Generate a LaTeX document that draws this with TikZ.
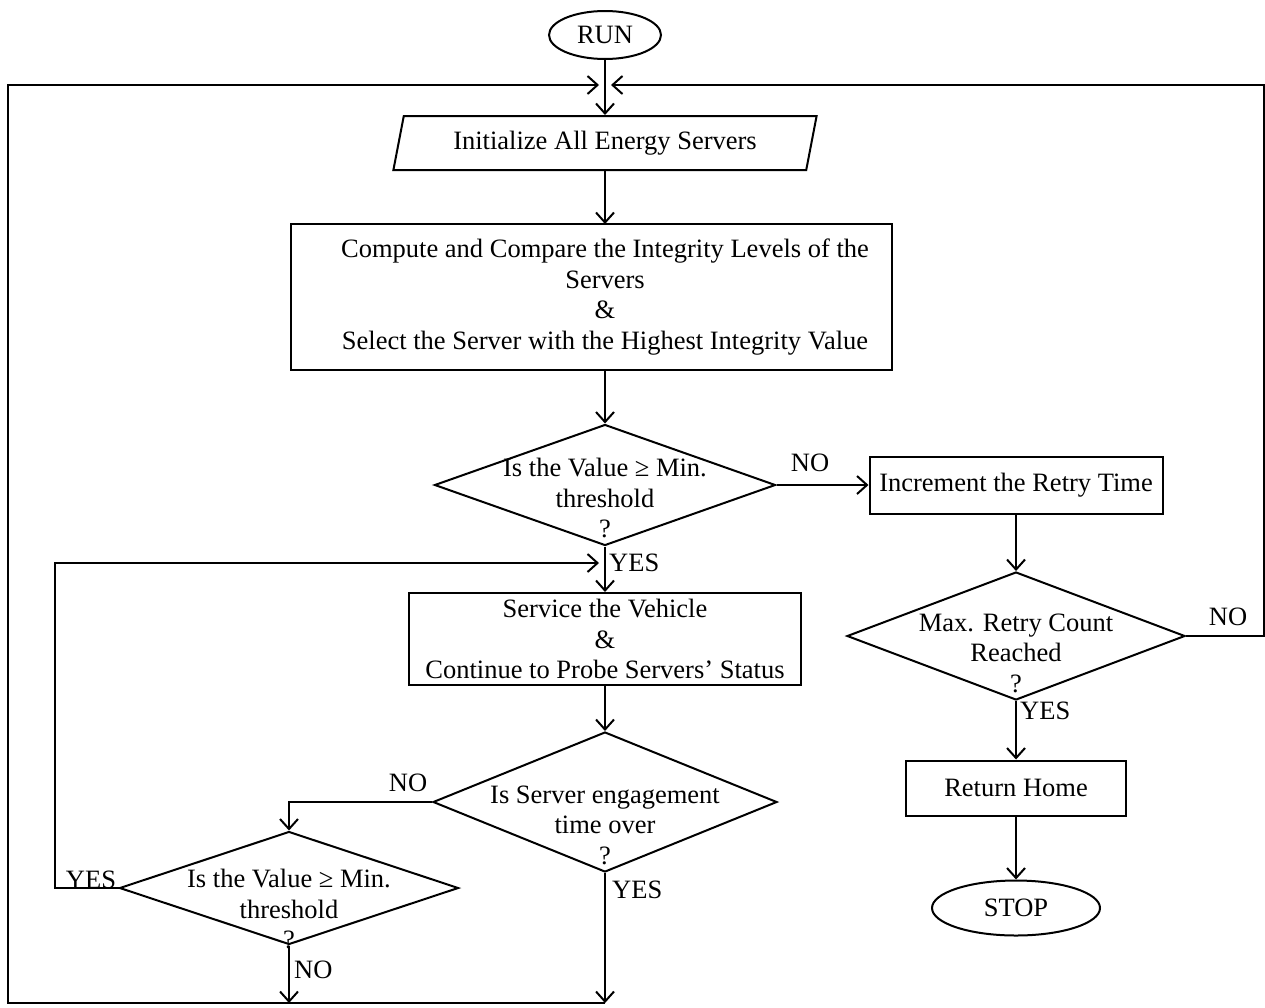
\documentclass[tikz,border=0pt]{standalone}
\usepackage{fontspec}
\setmainfont{Liberation Serif}
\usetikzlibrary{shapes.geometric,arrows.meta}
\begin{document}
\begin{tikzpicture}[x=1pt,y=-1pt,
  every node/.style={font=\fontsize{26.5}{30.5}\selectfont},
  ln/.style={line width=2pt},
  arr/.style={line width=2pt,-{Straight Barb[length=10pt,width=18pt]}},
  boxn/.style={draw,line width=2pt,rectangle,inner sep=0pt,align=center},
  term/.style={draw,line width=2pt,ellipse,inner sep=0pt},
  dia/.style={draw,line width=2pt,diamond,inner sep=0pt},
  txt/.style={align=center,inner sep=0pt},
  lbl/.style={inner sep=0pt}]
\useasboundingbox (0,0) rectangle (1265,1007);

% nodes
\node[term,minimum width=112,minimum height=48] (run) at (605,35) {RUN};
\node[draw,line width=2pt,trapezium,trapezium left angle=72,trapezium right angle=108,
      trapezium stretches=true,minimum width=424,minimum height=54,inner sep=0pt] (init) at (605,143) {Initialize All Energy Servers};
\node[boxn,minimum width=601,minimum height=146] (comp) at (591.5,297) {};
\node[txt] (ct) at (605,297)
  {Compute and Compare the Integrity Levels of the\\Servers\\\&\\Select the Server with the Highest Integrity Value};
\node[dia,minimum width=341,minimum height=121] (d1) at (605,485) {};
\node[txt] (t1) at (605,498) {Is the Value ≥ Min.\\threshold\\?};
\node[boxn,minimum width=293,minimum height=57] (inc) at (1016,485) {Increment the Retry Time};
\node[dia,minimum width=338,minimum height=128] (d2) at (1016,636) {};
\node[txt] (t2) at (1016,653) {Max. Retry Count\\Reached\\?};
\node[boxn,minimum width=220,minimum height=55] (home) at (1016,788) {Return Home};
\node[term,minimum width=168,minimum height=55] (stop) at (1016,908) {STOP};
\node[boxn,minimum width=392,minimum height=92] (serv) at (605,639)
  {Service the Vehicle\\\&\\Continue to Probe Servers’ Status};
\node[dia,minimum width=344,minimum height=140] (d3) at (605,802) {};
\node[txt] (t3) at (605,825) {Is Server engagement\\time over\\?};
\node[dia,minimum width=339,minimum height=113] (d4) at (289,888) {};
\node[txt] (t4) at (289,909) {Is the Value ≥ Min.\\threshold\\?};

% coordinates of the loop frame
\coordinate (jl) at (599,85);
\coordinate (jr) at (611,85);
\coordinate (tl) at (8,85);
\coordinate (bl) at (8,1003);
\coordinate (b2) at (605,1003);
\coordinate (b1) at (289,1003);
\coordinate (tr) at (1264,85);
\coordinate (rr) at (1264,636);
\coordinate (lb) at (55,888);
\coordinate (lt) at (55,563);
\coordinate (jy) at (599,563);
\coordinate (ctop) at (605,224);
\coordinate (cbot) at (605,370);

% connectors
\draw[arr] (run) -- (init);
\draw[arr] (init) -- (ctop);
\draw[arr] (cbot) -- (d1);
\draw[arr] (d1.east) -- (inc.west);
\draw[arr] (d1.south) -- (serv.north);
\draw[arr] (inc) -- (d2);
\draw[arr] (d2.south) -- (home.north);
\draw[arr] (home) -- (stop);
\draw[arr] (d2.east) -- (rr) -- (tr) -- (jr);
\draw[arr] (serv) -- (d3);
\draw[arr] (d3.west) -- (d3.west -| d4.north) -- (d4.north);
\draw[arr] (d4.west) -- (lb) -- (lt) -- (jy);
\draw[arr] (d4.south) -- (b1);
\draw[arr] (d3.south) -- (b2);
\draw[arr] (b2) -- (bl) -- (tl) -- (jl);

% labels
\node[lbl] at (810,463) {NO};
\node[lbl,anchor=west] at (1020,711) {YES};
\node[lbl] at (1228,617) {NO};
\node[lbl,anchor=west] at (609,563) {YES};
\node[lbl] at (408,783) {NO};
\node[lbl,anchor=west] at (612,890) {YES};
\node[lbl] at (91,880) {YES};
\node[lbl,anchor=west] at (294,970) {NO};
\end{tikzpicture}
\end{document}
